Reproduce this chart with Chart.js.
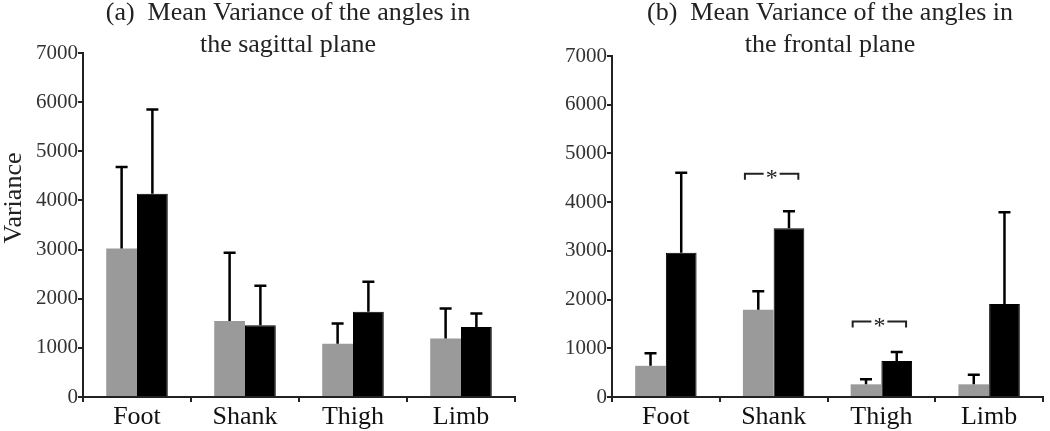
<!DOCTYPE html>
<html lang="en">
<head>
  <meta charset="UTF-8">
  <title>Mean Variance of the angles</title>
  <script src="https://cdn.jsdelivr.net/npm/chart.js"></script>
  <style>
    body { margin: 0; background: #fff; }
    .row { display: flex; width: 1050px; height: 431px; }
    canvas { display: block; }
  </style>
  <script>
    addEventListener("DOMContentLoaded", init);

    const categories = ["Foot", "Shank", "Thigh", "Limb"];

    // (a) sagittal plane: bar means and the top of each error bar
    const sagGray = [3020, 1545, 1085, 1190];
    const sagGrayErr = [4680, 2935, 1495, 1800];
    const sagBlack = [4135, 1460, 1735, 1425];
    const sagBlackErr = [5850, 2265, 2345, 1700];

    // (b) frontal plane
    const froGray = [640, 1790, 260, 260];
    const froGrayErr = [900, 2170, 365, 455];
    const froBlack = [2960, 3465, 740, 1910];
    const froBlackErr = [4605, 3815, 925, 3790];

    // significance brackets in (b): category index and bracket level
    const froSigCats = [1, 2];
    const froSigLevels = [4585, 1550];

    const yMin = 0;
    const yMax = 7000;
    const yStep = 1000;

    const ink = "#222";
    const grayFill = "#9a9a9a";
    const serif = "'Liberation Serif', 'Times New Roman', serif";

    function init() {
      makeChart(document.getElementById("sagittal"), {
        gray: sagGray, grayErr: sagGrayErr, black: sagBlack, blackErr: sagBlackErr,
        title: ["(a)  Mean Variance of the angles in", "the sagittal plane"],
        titleX: 288, yLabel: "Variance", axisWidth: 83, top: 53, right: 10,
        sig: []
      });
      makeChart(document.getElementById("frontal"), {
        gray: froGray, grayErr: froGrayErr, black: froBlack, blackErr: froBlackErr,
        title: ["(b)  Mean Variance of the angles in", "the frontal plane"],
        titleX: 305, yLabel: null, axisWidth: 87, top: 56, right: 7,
        sig: froSigCats.map((c, i) => ({ cat: c, level: froSigLevels[i] }))
      });
    }

    // error bars, brackets, titles
    const extras = {
      id: "extras",
      afterDatasetsDraw(chart) {
        const cfg = chart.options.plugins.extras;
        const ctx = chart.ctx;
        const y = chart.scales.y;
        ctx.save();
        ctx.strokeStyle = "#000";
        ctx.lineWidth = 2.5;
        [cfg.grayErr, cfg.blackErr].forEach((errs, di) => {
          const meta = chart.getDatasetMeta(di);
          meta.data.forEach((bar, j) => {
            const top = y.getPixelForValue(errs[j]);
            ctx.beginPath();
            ctx.moveTo(bar.x, bar.y);
            ctx.lineTo(bar.x, top);
            ctx.moveTo(bar.x - 6, top);
            ctx.lineTo(bar.x + 6, top);
            ctx.stroke();
          });
        });

        // significance brackets
        ctx.lineWidth = 2;
        ctx.strokeStyle = ink;
        ctx.fillStyle = ink;
        ctx.font = "24px " + serif;
        ctx.textAlign = "center";
        ctx.textBaseline = "middle";
        cfg.sig.forEach(s => {
          const g = chart.getDatasetMeta(0).data[s.cat];
          const b = chart.getDatasetMeta(1).data[s.cat];
          const x0 = g.x - g.width / 2 + 2;
          const x1 = b.x + b.width / 2 - 6;
          const xm = (x0 + x1) / 2;
          const ly = y.getPixelForValue(s.level);
          ctx.beginPath();
          ctx.moveTo(x0, ly + 6);
          ctx.lineTo(x0, ly);
          ctx.lineTo(xm - 8, ly);
          ctx.moveTo(xm + 8, ly);
          ctx.lineTo(x1, ly);
          ctx.lineTo(x1, ly + 6);
          ctx.stroke();
          ctx.fillText("*", xm, ly + 5);
        });

        // titles
        ctx.font = "26px " + serif;
        ctx.textBaseline = "alphabetic";
        ctx.fillText(cfg.title[0], cfg.titleX, 20);
        ctx.fillText(cfg.title[1], cfg.titleX, 52);

        if (cfg.yLabel) {
          ctx.translate(21, 198);
          ctx.rotate(-Math.PI / 2);
          ctx.font = "26px " + serif;
          ctx.fillText(cfg.yLabel, 0, 0);
        }
        ctx.restore();
      }
    };

    function makeChart(canvas, cfg) {
      new Chart(canvas, {
        type: "bar",
        data: {
          labels: categories,
          datasets: [
            { data: cfg.gray, backgroundColor: grayFill, borderWidth: 0 },
            { data: cfg.black, backgroundColor: "#000", borderColor: "#000", borderWidth: 1 }
          ]
        },
        options: {
          responsive: false,
          animation: false,
          events: [],
          datasets: { bar: { categoryPercentage: 0.57, barPercentage: 1 } },
          layout: { padding: { top: cfg.top, right: cfg.right, left: 0, bottom: 0 } },
          plugins: {
            legend: { display: false },
            tooltip: { enabled: false },
            title: { display: false },
            extras: cfg
          },
          scales: {
            x: {
              offset: true,
              grid: { offset: true, drawOnChartArea: false, tickLength: 5, color: ink, lineWidth: 2 },
              border: { color: ink, width: 2 },
              ticks: { color: "#111", font: { family: serif, size: 26 }, padding: 0 },
              afterFit: s => { s.height = 34; }
            },
            y: {
              min: yMin,
              max: yMax,
              grid: { drawOnChartArea: false, tickLength: 5, color: ink, lineWidth: 2 },
              border: { color: ink, width: 2 },
              ticks: {
                stepSize: yStep, color: "#333", font: { family: serif, size: 21 }, padding: 0,
                callback: v => String(v)
              },
              afterFit: s => { s.width = cfg.axisWidth; }
            }
          }
        },
        plugins: [extras]
      });
    }
  </script>
</head>
<body>
  <div class="row">
    <canvas id="sagittal" width="525" height="431"></canvas>
    <canvas id="frontal" width="525" height="431"></canvas>
  </div>
</body>
</html>
